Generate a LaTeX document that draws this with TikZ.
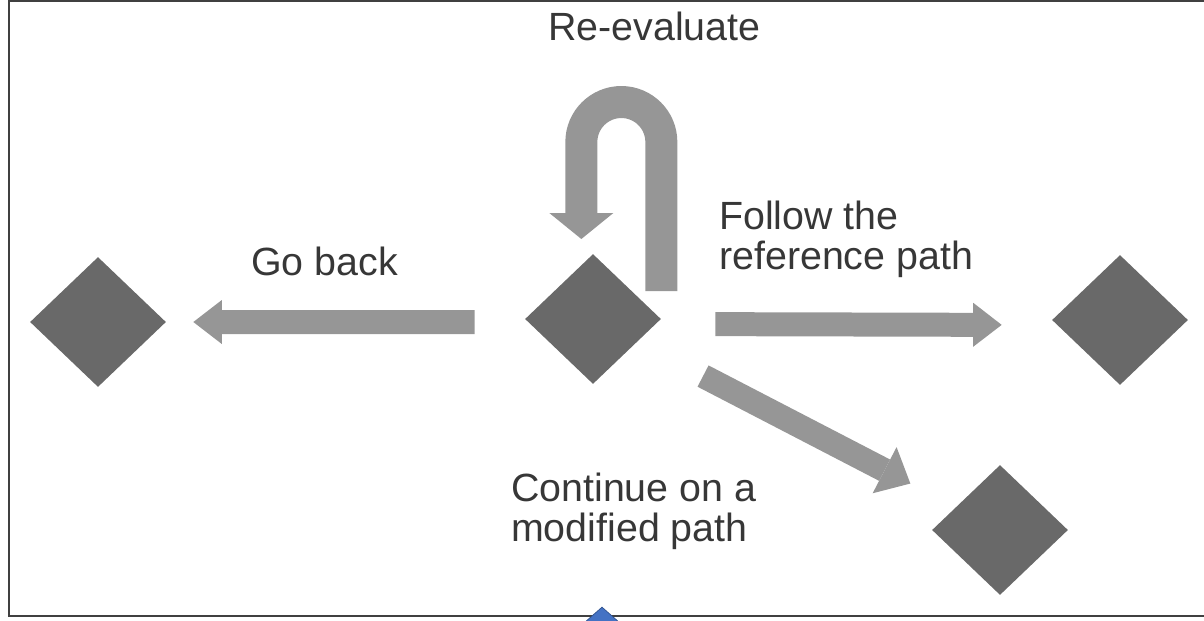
\documentclass[tikz,border=0pt]{standalone}
\usepackage{fontspec}
\setmainfont{Liberation Sans}
\usepackage{xcolor}
\usepackage{tikz}
\usetikzlibrary{shapes.geometric, arrows.meta, positioning}
\definecolor{diamondgray}{RGB}{105,105,105}
\definecolor{arrowgray}{RGB}{150,150,150}
\definecolor{textgray}{RGB}{55,55,55}
\definecolor{frameline}{RGB}{64,64,64}
\definecolor{markerblue}{RGB}{68,114,196}
\definecolor{markeredge}{RGB}{47,82,143}

\begin{document}
\begin{tikzpicture}[x=0.02cm, y=-0.02cm,
    junction/.style={diamond, fill=diamondgray, inner sep=0pt, minimum width=2.72cm, minimum height=2.6cm},
    note/.style={anchor=base west, align=left, text=textgray, font=\fontsize{22.4}{22.7}\selectfont},
    move/.style={draw=arrowgray, line width=0.48cm, -{Triangle[length=0.57cm, width=0.88cm, line width=0pt]}},
    uturn/.style={draw=arrowgray, line width=0.64cm, -{Triangle[length=0.52cm, width=1.28cm, line width=0pt]}}]

    \useasboundingbox (0,0) rectangle (1204,620);
    \clip (0,0) rectangle (1204,620);
    \draw[frameline, line width=0.05cm] (9,1) rectangle (1230,616);

    \node [junction] (back) at (98,322) {};
    \node [junction] (mid) at (593,319) {};
    \node [junction] (ahead) at (1120,320) {};
    \node [junction] (modified) at (1000,530) {};

    \node [note] (reeval) at (542,40) {Re-evaluate};
    \node [note] (goback) at (245,275) {Go back};
    \node [note] (follow) at (713,269) {Follow the\\reference path};
    \node [note] (continue) at (505,541) {Continue on a\\modified path};

    \draw [move, shorten <=1cm, shorten >=0.54cm] ([yshift=-0.06cm]mid.west) -- (back.east);
    \draw [move, shorten <=1.08cm, shorten >=1cm] ([yshift=-0.1cm]mid.east) -- ([yshift=-0.1cm]ahead.west);
    \draw [move, shorten <=2.48cm, shorten >=2.02cm, -{Triangle[length=0.58cm, width=1.04cm, line width=0pt]}] (mid.center) -- (modified.center);
    \draw [uturn] ([yshift=0.56cm]mid.east) -- ++(0,-149) arc[start angle=0, end angle=180, radius=0.8cm] -- ++(0,97);

    \node [diamond, fill=markerblue, draw=markeredge, inner sep=0pt, minimum width=0.68cm, minimum height=0.6cm] (marker) at (602,622) {};
\end{tikzpicture}
\end{document}
